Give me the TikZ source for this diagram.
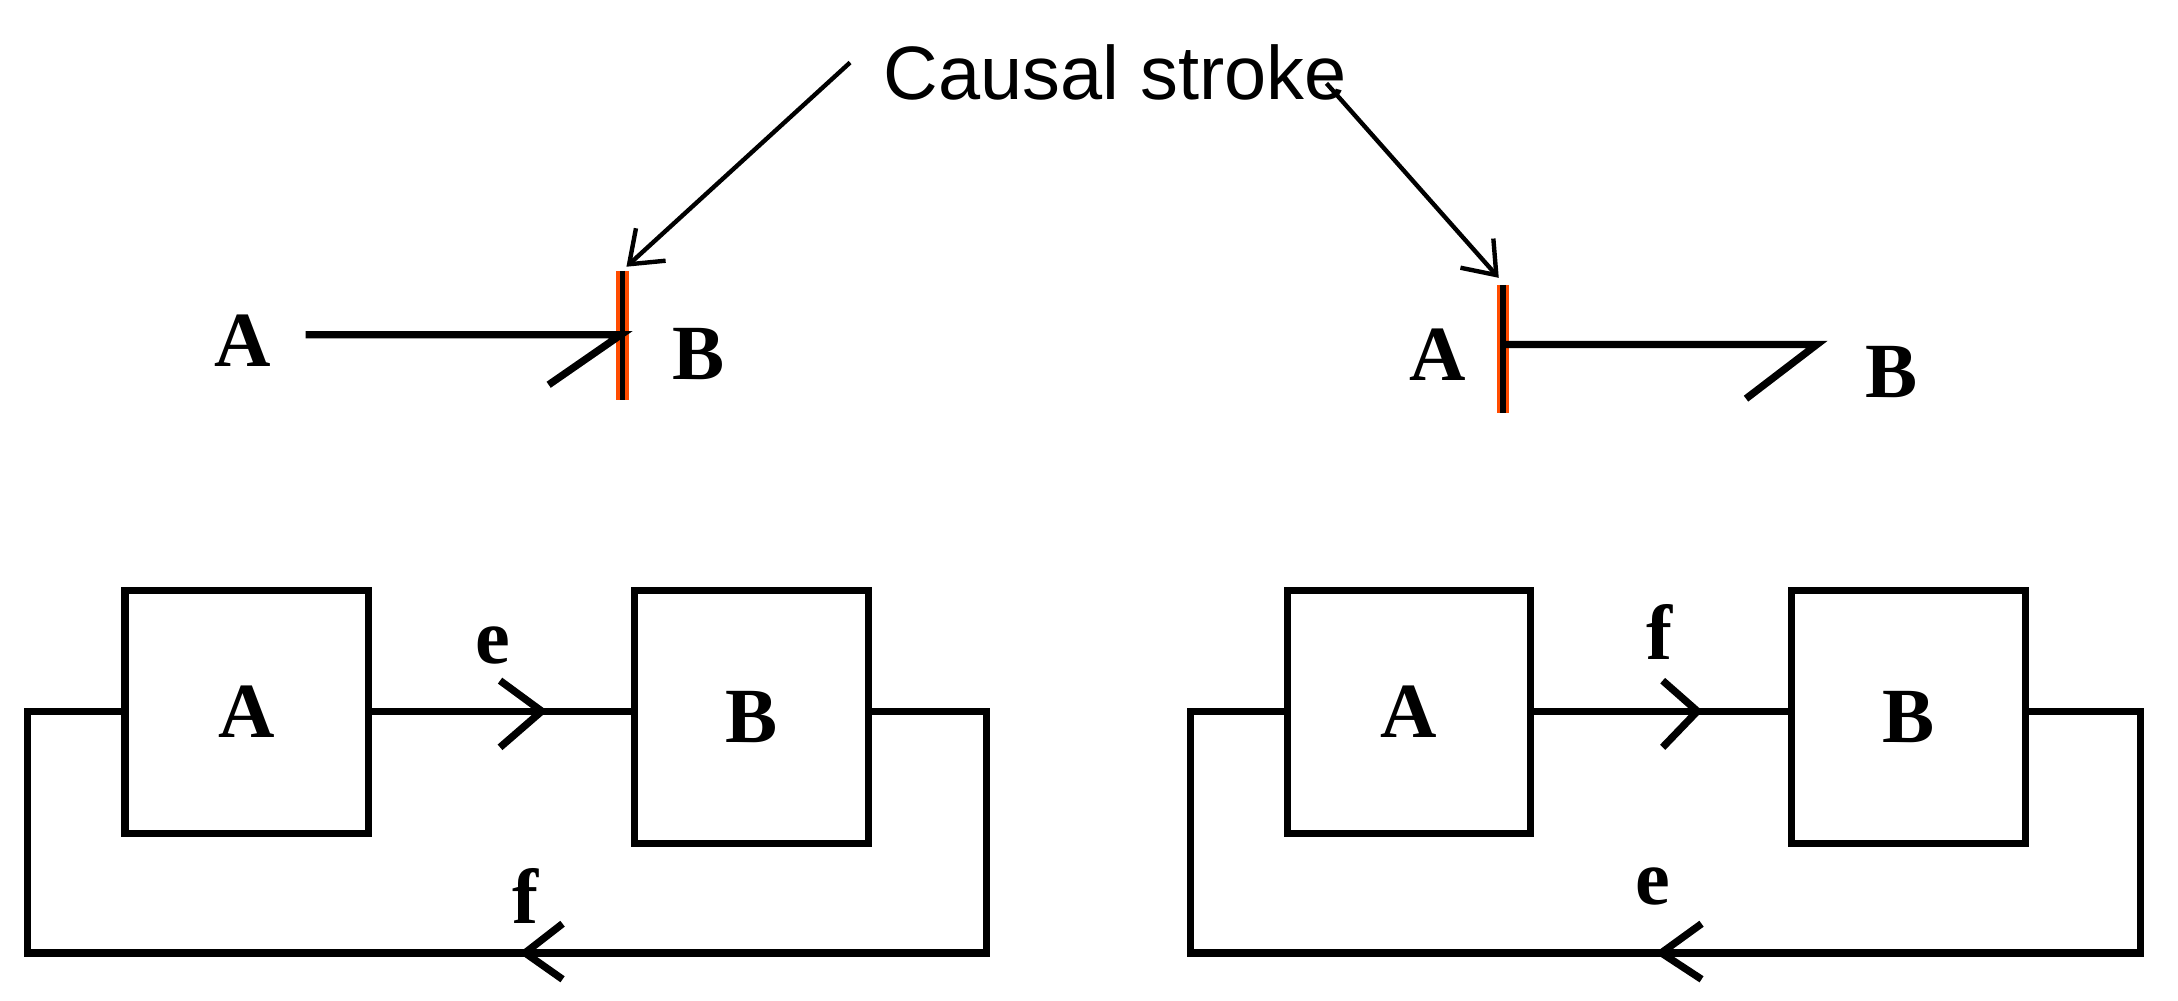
\documentclass[tikz,border=0pt]{standalone}
\usepackage{fontspec}
\setmainfont{Liberation Serif}
\newfontfamily\labelsans{Liberation Sans}
\usetikzlibrary{arrows.meta,positioning}
\begin{document}
\begin{tikzpicture}[x=0.01cm,y=-0.01cm,
    line/.style={line width=1.5pt},
    box/.style={draw, line width=1.5pt, inner sep=0pt},
    lbl/.style={font=\fontsize{16}{19}\selectfont\bfseries, inner sep=0pt},
    stroke/.style={draw=orange!60!red, line width=2.6pt},
    callout/.style={-{Straight Barb[length=6pt,width=9pt]}, line width=0.9pt},
]
  \useasboundingbox (0,0) rectangle (1568,720);

  % Causal stroke callouts
  \node[font=\labelsans\fontsize{15.5}{19}\selectfont] (cs) at (803,52) {Causal stroke};
  \coordinate (s1) at (448,195);
  \coordinate (s1b) at (448,288);
  \coordinate (s2) at (1082,205);
  \coordinate (s2b) at (1082,297);
  \draw[callout] (612,45) -- (451,192);
  \draw[callout] (955,60) -- (1079,200);

  % Top left bond
  \node[lbl] (tA1) at (175,245) {A};
  \node[lbl] (tB1) at (503,255) {B};
  \draw[stroke] (s1) -- (s1b);
  \draw[line width=1.1pt] (s1) -- (s1b);
  \draw[line] (220,241) -- (447,241) -- (395,277);

  % Top right bond
  \node[lbl] (tA2) at (1035,255) {A};
  \node[lbl] (tB2) at (1362,268) {B};
  \draw[stroke] (s2) -- (s2b);
  \draw[line width=1.1pt] (s2) -- (s2b);
  \draw[line] (1082,248) -- (1308,248) -- (1257,287);

  % Bottom left loop
  \node[box, minimum width=1.75cm, minimum height=1.75cm, lbl] (A1) at (177.5,512.5) {A};
  \node[box, minimum width=1.68cm, minimum height=1.82cm, lbl] (B1) at (541,516) {B};
  \draw[line] (A1.east |- 0,512) -- (B1.west |- 0,512);
  \draw[line] (360,490) -- (390,512) -- (360,538);
  \node[lbl] (e1) at (355,465) {e};
  \draw[line] (A1.west |- 0,512) -- (20,512) -- (20,686) -- (710,686)
    -- (710,512) -- (B1.east |- 0,512);
  \draw[line] (405,665) -- (378,686) -- (405,705);
  \node[lbl] (f1) at (378,645) {f};

  % Bottom right loop
  \node[box, minimum width=1.75cm, minimum height=1.75cm, lbl] (A2) at (1014.5,512.5) {A};
  \node[box, minimum width=1.68cm, minimum height=1.82cm, lbl] (B2) at (1374,516) {B};
  \draw[line] (A2.east |- 0,512) -- (B2.west |- 0,512);
  \draw[line] (1197,490) -- (1222,512) -- (1197,538);
  \node[lbl] (f2) at (1195,455) {f};
  \draw[line] (A2.west |- 0,512) -- (857,512) -- (857,686) -- (1541,686)
    -- (1541,512) -- (B2.east |- 0,512);
  \draw[line] (1225,665) -- (1196,686) -- (1225,705);
  \node[lbl] (e2) at (1190,638) {e};
\end{tikzpicture}
\end{document}
